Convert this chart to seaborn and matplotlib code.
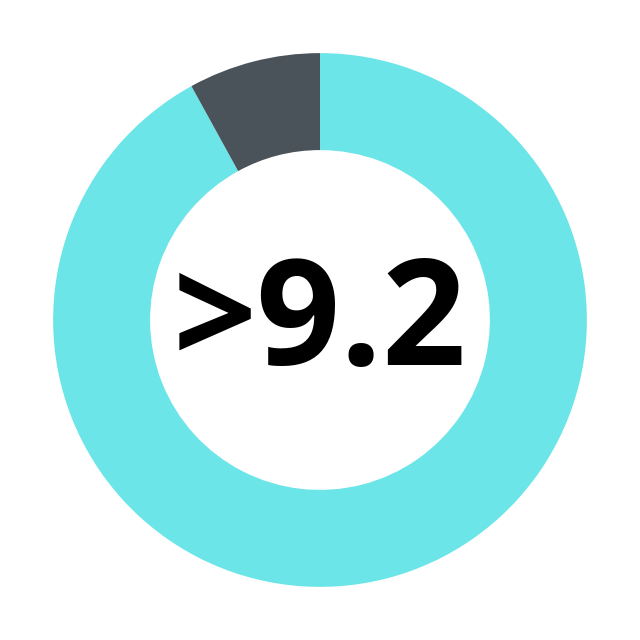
import matplotlib
matplotlib.use("Agg")
import matplotlib.pyplot as plt
import seaborn as sns

sns.set_theme(style="white")
plt.rcParams["font.family"] = ["Open Sans", "DejaVu Sans"]

labels = ["main", "rest"]
values = [92, 8]
colors = ["#6BE5E8", "#4A525A"]
center_text = ">9.2"

fig = plt.figure(figsize=(6.4, 6.4), dpi=100)
ax = fig.add_axes([0, 0, 1, 1])
ax.pie(values, colors=colors, startangle=90, counterclock=False,
       radius=0.834, wedgeprops=dict(width=0.303, linewidth=0))
ax.text(0, -0.02, center_text, ha="center", va="center",
        fontsize=106, fontweight="bold", color="black")
ax.set_xlim(-1, 1)
ax.set_ylim(-1, 1)
ax.set_aspect("equal")
ax.axis("off")
fig.savefig("out.png", dpi=100, facecolor="white")
